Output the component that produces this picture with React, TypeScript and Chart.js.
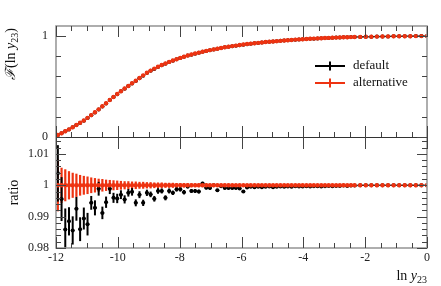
import React, { useEffect, useRef } from 'react';
import { Chart, registerables } from 'chart.js';

Chart.register(...registerables);

const RED = '#ee3311';
const BLACK = '#000000';
const FRAME = '#9a9a9a';
const TICK = '#444444';
const FONT = "'Liberation Serif', 'DejaVu Serif', serif";

// bin centres in ln y23
const X_VALUES = [
  -11.94, -11.82, -11.70, -11.58, -11.46, -11.34, -11.22, -11.10, -10.98, -10.86,
  -10.74, -10.62, -10.50, -10.38, -10.26, -10.14, -10.02, -9.90, -9.78, -9.66,
  -9.54, -9.42, -9.30, -9.18, -9.06, -8.94, -8.82, -8.70, -8.58, -8.46,
  -8.34, -8.22, -8.10, -7.98, -7.86, -7.74, -7.62, -7.50, -7.38, -7.26,
  -7.14, -7.02, -6.90, -6.78, -6.66, -6.54, -6.42, -6.30, -6.18, -6.06,
  -5.94, -5.82, -5.70, -5.58, -5.46, -5.34, -5.22, -5.10, -4.98, -4.86,
  -4.74, -4.62, -4.50, -4.38, -4.26, -4.14, -4.02, -3.90, -3.78, -3.66,
  -3.54, -3.42, -3.30, -3.18, -3.06, -2.94, -2.82, -2.70, -2.58, -2.46,
  -2.34, -2.16, -1.98, -1.80, -1.62, -1.44, -1.26, -1.08, -0.90, -0.72,
  -0.54, -0.36, -0.18, 0.00,
];

// cumulative distribution, alternative
const F_ALT = [
  0.020, 0.037, 0.057, 0.076, 0.097, 0.119, 0.141, 0.164, 0.190, 0.217,
  0.245, 0.274, 0.304, 0.335, 0.366, 0.397, 0.426, 0.454, 0.480, 0.506,
  0.532, 0.558, 0.585, 0.611, 0.636, 0.658, 0.678, 0.696, 0.713, 0.729,
  0.744, 0.758, 0.771, 0.784, 0.796, 0.807, 0.817, 0.827, 0.836, 0.845,
  0.853, 0.861, 0.868, 0.875, 0.882, 0.889, 0.895, 0.901, 0.906, 0.911,
  0.916, 0.921, 0.925, 0.929, 0.933, 0.937, 0.941, 0.944, 0.947, 0.950,
  0.953, 0.956, 0.959, 0.962, 0.965, 0.967, 0.969, 0.971, 0.973, 0.975,
  0.977, 0.979, 0.981, 0.982, 0.984, 0.985, 0.987, 0.988, 0.989, 0.990,
  0.991, 0.992, 0.993, 0.994, 0.995, 0.996, 0.997, 0.998, 0.998, 0.999,
  0.999, 1.000, 1.000, 1.000,
];

// ratio default / alternative
const RATIO_DEFAULT = [
  1.0038, 0.9956, 0.9859, 0.9885, 0.9856, 0.9925, 0.9860, 0.9894, 0.9876, 0.9944,
  0.9928, 0.9989, 0.9912, 0.9946, 0.9989, 0.9960, 0.9958, 0.9970, 0.9955, 0.9976,
  0.9979, 0.9944, 0.9970, 0.9944, 0.9976, 0.9971, 0.9957, 0.9982, 0.9982, 0.9960,
  0.9982, 0.9976, 0.9987, 0.9987, 0.9978, 0.9996, 0.9982, 0.9982, 0.9980, 1.0006,
  0.9992, 0.9991, 1.0000, 0.9984, 0.9997, 0.9991, 0.9991, 0.9991, 0.9991, 0.9990,
  0.9980, 0.9993, 0.9995, 0.9994, 0.9995, 0.9994, 0.9995, 0.9996, 0.9994, 0.9995,
  0.9996, 0.9995, 0.9996, 0.9995, 0.9997, 0.9996, 0.9996, 0.9997, 0.9996, 0.9997,
  0.9997, 0.9996, 0.9997, 0.9998, 0.9997, 0.9998, 0.9998, 0.9999, 0.9998, 0.9999,
  0.9999, 1.0000, 1.0000, 1.0000, 1.0000, 1.0000, 1.0000, 1.0000, 1.0000, 1.0000,
  1.0000, 1.0000, 1.0000, 1.0000,
];

// ratio uncertainties
const ERR_DEFAULT = [
  0.0090, 0.0070, 0.0067, 0.0045, 0.0045, 0.0038, 0.0038, 0.0035, 0.0036, 0.0022,
  0.0024, 0.0022, 0.0020, 0.0018, 0.0017, 0.0016, 0.0015, 0.0014, 0.0013, 0.0012,
  0.0012, 0.0011, 0.0011, 0.0010, 0.0010, 0.0009, 0.0009, 0.0009, 0.0008, 0.0008,
  0.0008, 0.0007, 0.0007, 0.0007, 0.0007, 0.0006, 0.0006, 0.0006, 0.0006, 0.0005,
  0.0005, 0.0005, 0.0005, 0.0005, 0.0005, 0.0004, 0.0004, 0.0004, 0.0004, 0.0004,
  0.0004, 0.0004, 0.0003, 0.0003, 0.0003, 0.0003, 0.0003, 0.0003, 0.0003, 0.0003,
  0.0003, 0.0003, 0.0002, 0.0002, 0.0002, 0.0002, 0.0002, 0.0002, 0.0002, 0.0002,
  0.0002, 0.0002, 0.0002, 0.0002, 0.0002, 0.0002, 0.0002, 0.0002, 0.0002, 0.0002,
  0.0001, 0.0001, 0.0001, 0.0001, 0.0001, 0.0001, 0.0001, 0.0001, 0.0001, 0.0001,
  0.0001, 0.0001, 0.0001, 0.0001,
];

const ERR_ALT = [
  0.0083, 0.0056, 0.0051, 0.0045, 0.0040, 0.0037, 0.0033, 0.0030, 0.0028, 0.0025,
  0.0023, 0.0021, 0.0020, 0.0018, 0.0017, 0.0016, 0.0015, 0.0014, 0.0013, 0.0013,
  0.0012, 0.0012, 0.0011, 0.0011, 0.0010, 0.0010, 0.0009, 0.0009, 0.0009, 0.0008,
  0.0008, 0.0008, 0.0007, 0.0007, 0.0007, 0.0007, 0.0006, 0.0006, 0.0006, 0.0006,
  0.0006, 0.0005, 0.0005, 0.0005, 0.0005, 0.0005, 0.0005, 0.0004, 0.0004, 0.0004,
  0.0004, 0.0004, 0.0004, 0.0003, 0.0003, 0.0003, 0.0003, 0.0003, 0.0003, 0.0003,
  0.0003, 0.0003, 0.0002, 0.0002, 0.0002, 0.0002, 0.0002, 0.0002, 0.0002, 0.0002,
  0.0002, 0.0002, 0.0002, 0.0002, 0.0002, 0.0002, 0.0002, 0.0002, 0.0002, 0.0002,
  0.0002, 0.0002, 0.0001, 0.0001, 0.0001, 0.0001, 0.0001, 0.0001, 0.0001, 0.0001,
  0.0001, 0.0001, 0.0001, 0.0001,
];

const X_MIN = -12;
const X_MAX = 0;
const TOP_MIN = 0;
const TOP_MAX = 1.1;
const RATIO_MIN = 0.98;
const RATIO_MAX = 1.0154;

const X_MAJOR = [-12, -10, -8, -6, -4, -2, 0];
const X_LABELS = ['-12', '-10', '-8', '-6', '-4', '-2', '0'];
const TOP_MAJOR = [0, 1];
const TOP_LABELS = ['0', '1'];
const RATIO_MAJOR = [0.98, 0.99, 1, 1.01];
const RATIO_LABELS = ['0.98', '0.99', '1', '1.01'];
const LEGEND_LABELS = ['default', 'alternative'];
const LEGEND_COLORS = [BLACK, RED];

type Part = { text: string; font: string; dy?: number };

function drawRich(ctx: CanvasRenderingContext2D, parts: Part[], x: number, y: number, align: 'left' | 'right' | 'center') {
  let total = 0;
  const widths = parts.map((p) => {
    ctx.font = p.font;
    const w = ctx.measureText(p.text).width;
    total += w;
    return w;
  });
  let cx = align === 'left' ? x : align === 'right' ? x - total : x - total / 2;
  ctx.textAlign = 'left';
  parts.forEach((p, i) => {
    ctx.font = p.font;
    ctx.fillText(p.text, cx, y + (p.dy || 0));
    cx += widths[i];
  });
}

function halfWidth(i: number) {
  const prev = i > 0 ? X_VALUES[i] - X_VALUES[i - 1] : X_VALUES[i + 1] - X_VALUES[i];
  const next = i < X_VALUES.length - 1 ? X_VALUES[i + 1] - X_VALUES[i] : prev;
  return { lo: prev / 2, hi: next / 2 };
}

function seg(ctx: CanvasRenderingContext2D, x1: number, y1: number, x2: number, y2: number) {
  ctx.beginPath();
  ctx.moveTo(x1, y1);
  ctx.lineTo(x2, y2);
  ctx.stroke();
}

const rivetPlugin = {
  id: 'rivetFrame',
  beforeDatasetsDraw(chart: any) {
    const { ctx, chartArea: a, scales } = chart;
    const xs = scales.x;
    const yt = scales.yTop;
    const yr = scales.yRatio;
    const mid = yt.getPixelForValue(TOP_MIN);

    // top panel: bin-width bars of default
    ctx.save();
    ctx.beginPath();
    ctx.rect(a.left, a.top, a.right - a.left, mid - a.top);
    ctx.clip();
    ctx.strokeStyle = BLACK;
    ctx.lineWidth = 1.4;
    X_VALUES.forEach((xv, i) => {
      const hw = halfWidth(i);
      const py = yt.getPixelForValue(F_ALT[i] * RATIO_DEFAULT[i]);
      seg(ctx, xs.getPixelForValue(xv - hw.lo), py, xs.getPixelForValue(xv + hw.hi), py);
    });
    ctx.restore();

    // ratio panel
    ctx.save();
    ctx.beginPath();
    ctx.rect(a.left, mid, a.right - a.left, a.bottom - mid);
    ctx.clip();
    ctx.strokeStyle = RED;
    ctx.lineWidth = 2.2;
    X_VALUES.forEach((xv, i) => {
      const px = xs.getPixelForValue(xv);
      seg(ctx, px, yr.getPixelForValue(1 - ERR_ALT[i]), px, yr.getPixelForValue(1 + ERR_ALT[i]));
    });
    ctx.strokeStyle = BLACK;
    X_VALUES.forEach((xv, i) => {
      const px = xs.getPixelForValue(xv);
      const r = RATIO_DEFAULT[i];
      ctx.lineWidth = 2;
      seg(ctx, px, yr.getPixelForValue(r - ERR_DEFAULT[i]), px, yr.getPixelForValue(r + ERR_DEFAULT[i]));
      const hw = halfWidth(i);
      const py = yr.getPixelForValue(r);
      ctx.lineWidth = 1.4;
      seg(ctx, xs.getPixelForValue(xv - hw.lo), py, xs.getPixelForValue(xv + hw.hi), py);
    });
    ctx.restore();
  },
  afterDraw(chart: any) {
    const { ctx, chartArea: a, scales } = chart;
    const xs = scales.x;
    const yt = scales.yTop;
    const yr = scales.yRatio;
    const mid = Math.round(yt.getPixelForValue(TOP_MIN));
    ctx.save();

    // frame
    ctx.strokeStyle = FRAME;
    ctx.lineWidth = 1.6;
    ctx.strokeRect(a.left, a.top, a.right - a.left, a.bottom - a.top);
    ctx.strokeStyle = '#333333';
    ctx.lineWidth = 1;
    seg(ctx, a.left, mid + 0.5, a.right, mid + 0.5);

    // x ticks
    ctx.strokeStyle = TICK;
    ctx.lineWidth = 1;
    for (let i = 0; i <= 24; i++) {
      const v = X_MIN + i * 0.5;
      const major = i % 4 === 0;
      const px = Math.round(xs.getPixelForValue(v)) + 0.5;
      const len = major ? 11 : 5;
      seg(ctx, px, a.top, px, a.top + len);
      seg(ctx, px, mid, px, mid - len);
      if (major) seg(ctx, px, mid, px, mid + 12);
      seg(ctx, px, a.bottom, px, a.bottom - len);
    }
    // top y ticks
    for (let i = 0; i <= 5; i++) {
      const v = i * 0.2;
      const major = i === 0 || i === 5;
      const py = Math.round(yt.getPixelForValue(v)) + 0.5;
      const len = major ? 10 : 5;
      seg(ctx, a.left, py, a.left + len, py);
      seg(ctx, a.right, py, a.right - len, py);
    }
    // ratio y ticks
    for (let i = 0; i <= 17; i++) {
      const v = RATIO_MIN + i * 0.002;
      const major = i % 5 === 0;
      const py = Math.round(yr.getPixelForValue(v)) + 0.5;
      const len = major ? 10 : 5;
      seg(ctx, a.left, py, a.left + len, py);
      seg(ctx, a.right, py, a.right - len, py);
    }

    // tick labels
    ctx.fillStyle = '#222222';
    ctx.font = `12px ${FONT}`;
    ctx.textAlign = 'center';
    ctx.textBaseline = 'middle';
    X_MAJOR.forEach((v, i) => ctx.fillText(X_LABELS[i], xs.getPixelForValue(v), a.bottom + 10));
    ctx.textAlign = 'right';
    TOP_MAJOR.forEach((v, i) => ctx.fillText(TOP_LABELS[i], a.left - 8, yt.getPixelForValue(v)));
    RATIO_MAJOR.forEach((v, i) => ctx.fillText(RATIO_LABELS[i], a.left - 7, yr.getPixelForValue(v)));

    // axis titles
    ctx.fillStyle = '#111111';
    ctx.textBaseline = 'alphabetic';
    const sub = `10px ${FONT}`;
    drawRich(ctx, [
      { text: 'ln ', font: `14px ${FONT}` },
      { text: 'y', font: `italic 14px ${FONT}` },
      { text: '23', font: sub, dy: 3 },
    ], a.right, 280, 'right');

    ctx.save();
    ctx.translate(15, a.top + 2);
    ctx.rotate(-Math.PI / 2);
    drawRich(ctx, [
      { text: 'ℱ', font: `italic 14px ${FONT}` },
      { text: '(ln ', font: `14px ${FONT}` },
      { text: 'y', font: `italic 14px ${FONT}` },
      { text: '23', font: sub, dy: 3 },
      { text: ')', font: `14px ${FONT}` },
    ], 0, 0, 'right');
    ctx.restore();

    ctx.save();
    ctx.translate(18, (mid + a.bottom) / 2);
    ctx.rotate(-Math.PI / 2);
    drawRich(ctx, [{ text: 'ratio', font: `14px ${FONT}` }], 0, 0, 'center');
    ctx.restore();

    // legend
    ctx.textBaseline = 'middle';
    ctx.textAlign = 'left';
    ctx.font = `13px ${FONT}`;
    LEGEND_LABELS.forEach((label, i) => {
      const y = 66 + i * 17;
      ctx.strokeStyle = LEGEND_COLORS[i];
      ctx.lineWidth = 2;
      seg(ctx, 315, y, 345, y);
      seg(ctx, 330, y - 4.5, 330, y + 4.5);
      ctx.fillStyle = '#111111';
      ctx.fillText(label, 353, y);
    });

    ctx.restore();
  },
};

export default function App() {
  const canvasRef = useRef<HTMLCanvasElement | null>(null);

  useEffect(() => {
    const canvas = canvasRef.current;
    if (!canvas) return;
    const topAlt = X_VALUES.map((x, i) => ({ x, y: F_ALT[i] }));
    const topDefault = X_VALUES.map((x, i) => ({ x, y: F_ALT[i] * RATIO_DEFAULT[i] }));
    const ratioDefault = X_VALUES.map((x, i) => ({ x, y: RATIO_DEFAULT[i] }));
    const ratioAlt = X_VALUES.map((x, i) => ({ x, y: F_ALT[i] / F_ALT[i] }));

    const chart = new Chart(canvas, {
      type: 'scatter',
      data: {
        datasets: [
          { label: 'alternative', data: topAlt, yAxisID: 'yTop', backgroundColor: RED, borderColor: RED, pointRadius: 2.2, pointBorderWidth: 0, showLine: false },
          { label: 'default', data: topDefault, yAxisID: 'yTop', backgroundColor: BLACK, borderColor: BLACK, pointRadius: 2, pointBorderWidth: 0, showLine: false },
          { label: 'alternative', data: ratioAlt, yAxisID: 'yRatio', backgroundColor: RED, borderColor: RED, pointRadius: 2.2, pointBorderWidth: 0, showLine: false },
          { label: 'default', data: ratioDefault, yAxisID: 'yRatio', backgroundColor: BLACK, borderColor: BLACK, pointRadius: 2, pointBorderWidth: 0, showLine: false },
        ],
      },
      options: {
        animation: false,
        responsive: false,
        events: [],
        layout: { padding: { left: 56, right: 14, top: 26, bottom: 38 } },
        plugins: { legend: { display: false }, tooltip: { enabled: false } },
        scales: {
          x: { type: 'linear', min: X_MIN, max: X_MAX, display: false },
          yTop: { type: 'linear', min: TOP_MIN - (TOP_MAX - TOP_MIN), max: TOP_MAX, display: false },
          yRatio: { type: 'linear', min: RATIO_MIN, max: RATIO_MAX + (RATIO_MAX - RATIO_MIN), display: false },
        },
      },
      plugins: [rivetPlugin],
    });
    return () => chart.destroy();
  }, []);

  return (
    <div style={{ position: 'fixed', left: 0, top: 0, width: 441, height: 286, background: '#ffffff' }}>
      <canvas ref={canvasRef} width={441} height={286} style={{ display: 'block' }} />
    </div>
  );
}
